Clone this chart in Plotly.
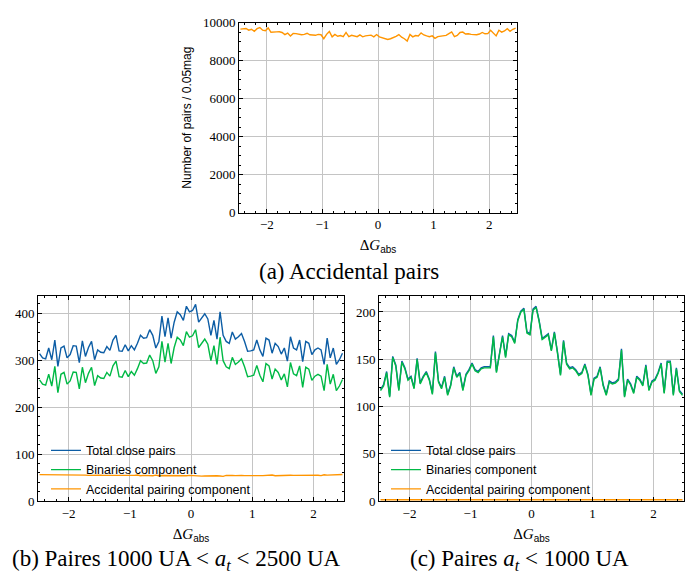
import numpy as np
import plotly.graph_objects as go

# ---------------- data ----------------
bin_centers = [round(-2.475 + 0.05 * i, 3) for i in range(100)]

accidental_a = [9658, 9660, 9690, 9600, 9650, 9540, 9680, 9740, 9600, 9570,
                9720, 9490, 9520, 9510, 9520, 9480, 9370, 9450, 9290, 9430,
                9420, 9380, 9360, 9380, 9440, 9360, 9350, 9330, 9380, 9360,
                9150, 9380, 9530, 9250, 9380, 9280, 9320, 9260, 9480, 9260,
                9330, 9290, 9260, 9350, 9250, 9300, 9330, 9340, 9250, 9370,
                9250, 9200, 9160, 9110, 9150, 9200, 9280, 9370, 9230, 9150,
                9030, 9380, 9250, 9320, 9300, 9460, 9350, 9300, 9260, 9300,
                9170, 9260, 9280, 9300, 9330, 9420, 9510, 9260, 9320, 9480,
                9500, 9400, 9410, 9380, 9370, 9360, 9400, 9480, 9410, 9420,
                9600, 9450, 9300, 9600, 9500, 9560, 9680, 9540, 9650, 9710]

total_b = [314, 305, 303, 326, 301, 343, 287, 326, 330, 305,
           312, 331, 330, 295, 341, 308, 327, 340, 301, 322,
           317, 316, 329, 321, 343, 353, 320, 319, 333, 320,
           331, 322, 336, 353, 347, 348, 365, 353, 326, 340,
           394, 350, 390, 347, 381, 403, 397, 385, 415, 403,
           406, 419, 381, 390, 399, 388, 353, 385, 345, 403,
           353, 340, 336, 360, 345, 350, 357, 340, 319, 320,
           322, 343, 322, 308, 347, 343, 315, 336, 329, 313,
           326, 298, 350, 326, 322, 343, 297, 340, 336, 312,
           322, 326, 322, 291, 347, 305, 326, 291, 301, 315]

binaries_b = [258, 249, 247, 270, 245, 287, 231, 270, 274, 249,
              256, 275, 274, 239, 285, 252, 272, 285, 246, 267,
              262, 261, 274, 266, 288, 298, 265, 264, 278, 265,
              276, 268, 282, 299, 293, 294, 311, 299, 272, 286,
              340, 296, 336, 293, 327, 349, 343, 331, 361, 349,
              352, 365, 327, 336, 345, 334, 299, 331, 291, 349,
              299, 286, 282, 306, 291, 296, 303, 286, 265, 266,
              268, 289, 268, 254, 293, 288, 260, 281, 274, 258,
              271, 243, 295, 271, 267, 288, 242, 285, 281, 257,
              266, 270, 266, 235, 291, 249, 270, 235, 245, 259]

accidental_b = [56.2, 56.2, 56.3, 55.8, 56.1, 55.5, 56.3, 56.6, 55.8, 55.6,
                56.5, 55.2, 55.3, 55.3, 55.3, 55.1, 54.5, 54.9, 54.0, 54.8,
                54.8, 54.5, 54.4, 54.5, 54.9, 54.4, 54.4, 54.2, 54.5, 54.4,
                53.2, 54.5, 55.4, 53.8, 54.5, 54.0, 54.2, 53.8, 55.1, 53.8,
                54.2, 54.0, 53.8, 54.4, 53.8, 54.1, 54.2, 54.3, 53.8, 54.5,
                53.8, 53.5, 53.3, 53.0, 53.2, 53.5, 54.0, 54.5, 53.7, 53.2,
                52.5, 54.5, 53.8, 54.2, 54.1, 55.0, 54.4, 54.1, 53.8, 54.1,
                53.3, 53.8, 54.0, 54.1, 54.2, 54.8, 55.3, 53.8, 54.2, 55.1,
                55.2, 54.7, 54.7, 54.5, 54.5, 54.4, 54.7, 55.1, 54.7, 54.8,
                55.8, 54.9, 54.1, 55.8, 55.2, 55.6, 56.3, 55.5, 56.1, 56.5]

total_c = [118, 123, 137, 111, 153, 144, 118, 148, 141, 129,
           132, 120, 151, 125, 132, 137, 129, 114, 158, 127,
           120, 132, 113, 123, 142, 132, 136, 118, 134, 139,
           146, 139, 137, 141, 142, 142, 142, 175, 137, 156,
           175, 153, 177, 175, 168, 192, 201, 204, 179, 177,
           203, 206, 191, 172, 175, 177, 160, 179, 158, 134,
           170, 146, 141, 142, 139, 134, 136, 145, 134, 113,
           130, 132, 142, 123, 113, 127, 125, 126, 129, 161,
           111, 129, 124, 115, 132, 129, 123, 144, 118, 127,
           129, 136, 146, 115, 148, 148, 113, 141, 117, 113]

binaries_c = [116.8, 121.8, 135.8, 109.8, 151.8, 142.8, 116.8, 146.8, 139.8, 127.8,
              130.8, 118.8, 149.8, 123.8, 130.8, 135.8, 127.8, 112.8, 156.8, 125.8,
              118.8, 130.8, 111.8, 121.8, 140.8, 130.8, 134.8, 116.8, 132.8, 137.8,
              144.8, 137.8, 135.8, 139.8, 140.8, 140.8, 140.8, 173.8, 135.8, 154.8,
              173.8, 151.8, 175.8, 173.8, 166.8, 190.8, 199.8, 202.8, 177.8, 175.8,
              201.8, 204.8, 189.8, 170.8, 173.8, 175.8, 158.8, 177.8, 156.8, 132.8,
              168.8, 144.8, 139.8, 140.8, 137.8, 132.8, 134.8, 143.8, 132.8, 111.8,
              128.8, 130.8, 140.8, 121.8, 111.8, 125.8, 123.8, 124.8, 127.8, 159.8,
              109.8, 127.8, 122.8, 113.8, 130.8, 127.8, 121.8, 142.8, 116.8, 125.8,
              127.8, 134.8, 144.8, 113.8, 146.8, 146.8, 111.8, 139.8, 115.8, 111.8]

accidental_c = [1.25, 1.25, 1.25, 1.24, 1.25, 1.23, 1.25, 1.26, 1.24, 1.24,
                1.26, 1.23, 1.23, 1.23, 1.23, 1.23, 1.21, 1.22, 1.20, 1.22,
                1.22, 1.21, 1.21, 1.21, 1.22, 1.21, 1.21, 1.21, 1.21, 1.21,
                1.18, 1.21, 1.23, 1.20, 1.21, 1.20, 1.21, 1.20, 1.23, 1.20,
                1.21, 1.20, 1.20, 1.21, 1.20, 1.20, 1.21, 1.21, 1.20, 1.21,
                1.20, 1.19, 1.19, 1.18, 1.18, 1.19, 1.20, 1.21, 1.19, 1.18,
                1.17, 1.21, 1.20, 1.21, 1.20, 1.22, 1.21, 1.20, 1.20, 1.20,
                1.19, 1.20, 1.20, 1.20, 1.21, 1.22, 1.23, 1.20, 1.21, 1.23,
                1.23, 1.22, 1.22, 1.21, 1.21, 1.21, 1.22, 1.23, 1.22, 1.22,
                1.24, 1.22, 1.20, 1.24, 1.23, 1.24, 1.25, 1.23, 1.25, 1.26]

legend_names = ["Total close pairs", "Binaries component", "Accidental pairing component"]
x_ticks = [-2, -1, 0, 1, 2]

# ---------------- style ----------------
BLUE, GREEN, ORANGE = "#0C5DA5", "#00B945", "#FF9500"
SERIF = "Liberation Serif"
SANS = "Liberation Sans"
W, H = 685, 585
LW = 1.4

def px_x(a, b):
    return [a / W, b / W]

def px_y(top, bottom):
    return [(H - bottom) / H, (H - top) / H]

fig = go.Figure()

# (a)
fig.add_trace(go.Scatter(x=bin_centers, y=accidental_a, mode="lines",
                         line=dict(color=ORANGE, width=LW), showlegend=False,
                         xaxis="x", yaxis="y"))
# (b)
for vals, col, name in zip([total_b, binaries_b, accidental_b], [BLUE, GREEN, ORANGE], legend_names):
    fig.add_trace(go.Scatter(x=bin_centers, y=vals, mode="lines", name=name,
                             line=dict(color=col, width=LW), legend="legend",
                             xaxis="x2", yaxis="y2"))
# (c)
for vals, col, name in zip([total_c, binaries_c, accidental_c], [BLUE, GREEN, ORANGE], legend_names):
    fig.add_trace(go.Scatter(x=bin_centers, y=vals, mode="lines", name=name,
                             line=dict(color=col, width=LW), legend="legend2",
                             xaxis="x3", yaxis="y3"))

xtitle = ("<span style='font-family:Liberation Serif'>Δ<i>G</i></span>"
          "<sub><span style='font-family:Liberation Sans;font-size:10px'>abs</span></sub>")

def xaxis(domain, anchor):
    return dict(domain=domain, anchor=anchor, range=[-2.5, 2.5],
                tickvals=x_ticks, ticks="inside", ticklen=4, tickcolor="black",
                showline=True, linecolor="black", linewidth=1, mirror="allticks",
                showgrid=True, gridcolor="#c4c4c4", gridwidth=1, zeroline=False,
                minor=dict(dtick=0.2, tick0=0, ticks="inside", ticklen=2, tickcolor="black",
                           showgrid=False),
                tickfont=dict(family=SERIF, size=13, color="black"),
                title=dict(text=xtitle, font=dict(family=SERIF, size=15, color="black"), standoff=8))

def yaxis(domain, anchor, rng, dtick, minor):
    return dict(domain=domain, anchor=anchor, range=rng, dtick=dtick, tick0=0,
                tickformat="d",
                ticks="inside", ticklen=4, tickcolor="black",
                showline=True, linecolor="black", linewidth=1, mirror="allticks",
                showgrid=True, gridcolor="#c4c4c4", gridwidth=1, zeroline=False,
                minor=dict(dtick=minor, tick0=0, ticks="inside", ticklen=2, tickcolor="black",
                           showgrid=False),
                tickfont=dict(family=SERIF, size=13, color="black"))

ya = yaxis(px_y(16, 211), "x", [0, 10000], 2000, 500)
ya["title"] = dict(text="Number of pairs / 0.05mag", font=dict(family=SANS, size=12, color="black"),
                   standoff=8)

fig.update_layout(
    width=W, height=H, margin=dict(l=0, r=0, t=0, b=0),
    paper_bgcolor="white", plot_bgcolor="white",
    xaxis=xaxis(px_x(239, 517), "y"),
    yaxis=ya,
    xaxis2=xaxis(px_x(38, 344), "y2"),
    yaxis2=yaxis(px_y(297, 507), "x2", [0, 436], 100, 20),
    xaxis3=xaxis(px_x(379, 684), "y3"),
    yaxis3=yaxis(px_y(297, 507), "x3", [0, 216.5], 50, 10),
    legend=dict(x=46 / W, y=(H - 440) / H, xanchor="left", yanchor="top",
                bgcolor="rgba(0,0,0,0)", font=dict(family=SANS, size=12.5, color="black"),
                itemwidth=30, tracegroupgap=0),
    legend2=dict(x=386 / W, y=(H - 440) / H, xanchor="left", yanchor="top",
                 bgcolor="rgba(0,0,0,0)", font=dict(family=SANS, size=12.5, color="black"),
                 itemwidth=30, tracegroupgap=0),
    annotations=[
        dict(text="(a) Accidental pairs", x=349 / W, y=(H - 271) / H, xref="paper", yref="paper",
             xanchor="center", yanchor="middle",
             showarrow=False, font=dict(family=SERIF, size=23, color="black")),
        dict(text="(b) Paires 1000 UA &lt; <i>a</i><sub><i>t</i></sub> &lt; 2500 UA",
             x=176 / W, y=(H - 568) / H, xref="paper", yref="paper",
             xanchor="center", yanchor="middle",
             showarrow=False, font=dict(family=SERIF, size=23, color="black")),
        dict(text="(c) Paires <i>a</i><sub><i>t</i></sub> &lt; 1000 UA",
             x=519 / W, y=(H - 568) / H, xref="paper", yref="paper",
             xanchor="center", yanchor="middle",
             showarrow=False, font=dict(family=SERIF, size=23, color="black")),
    ],
)

fig.write_html("out.html")
